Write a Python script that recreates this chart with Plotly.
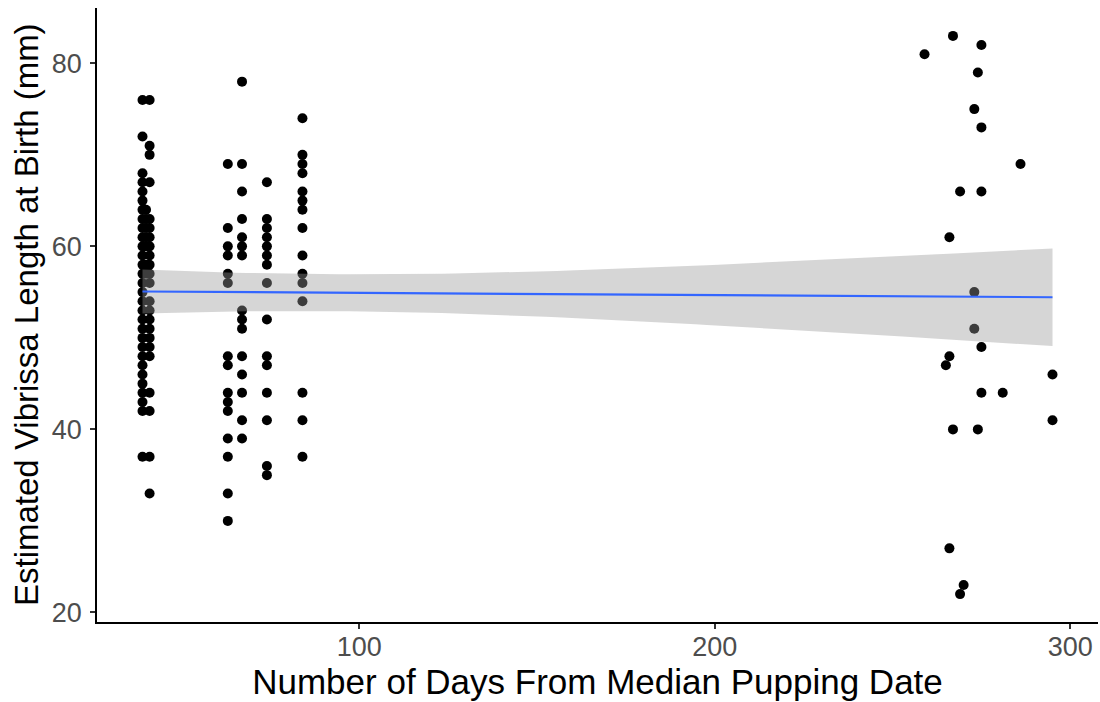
import numpy as np
import plotly.graph_objects as go

# ---- data (days from median pupping date, estimated vibrissa length at birth in mm) ----
c1a_day = 39
c1a_len = [76, 72, 68, 67, 66, 65, 64, 63, 62, 61, 60, 59, 58, 57, 56, 55, 54, 53,
           52, 51, 50, 49, 48, 47, 46, 45, 44, 43, 42, 37]
c1b_day = 41
c1b_len = [76, 71, 70, 67, 63, 62, 61, 60, 59, 58, 57, 56, 54, 53, 52, 51, 50, 49,
           48, 44, 42, 37, 33]
c1c_day = 40
c1c_len = [64, 63, 62, 61, 60, 58, 57]

c2_day = 63
c2_len = [69, 62, 60, 59, 57, 56, 48, 47, 44, 43, 42, 39, 37, 33, 30]
c3_day = 67
c3_len = [78, 69, 66, 63, 61, 60, 59, 53, 52, 51, 48, 46, 44, 41, 39]
c4_day = 74
c4_len = [67, 63, 62, 61, 60, 59, 58, 56, 52, 48, 47, 44, 41, 36, 35]
c5_day = 84
c5_len = [74, 70, 69, 68, 66, 65, 64, 62, 59, 57, 56, 54, 44, 41, 37]

late_day = [267, 275, 259, 274, 273, 275, 286, 269, 275, 266, 273, 273, 275, 266,
            265, 295, 275, 281, 295, 267, 274, 266, 270, 269]
late_len = [83, 82, 81, 79, 75, 73, 69, 66, 66, 61, 55, 51, 49, 48, 47, 46, 44, 44,
            41, 40, 40, 27, 23, 22]

x_ticks = [100, 200, 300]
y_ticks = [20, 40, 60, 80]
x_title = "Number of Days From Median Pupping Date"
y_title = "Estimated Vibrissa Length at Birth (mm)"

# ---- assemble ----
xs, ys = [], []
for d, vals in [(c1a_day, c1a_len), (c1b_day, c1b_len), (c1c_day, c1c_len),
                (c2_day, c2_len), (c3_day, c3_len), (c4_day, c4_len), (c5_day, c5_len)]:
    xs += [d] * len(vals)
    ys += vals
xs += late_day
ys += late_len
x = np.array(xs, dtype=float)
y = np.array(ys, dtype=float)

# linear model fit with 95% confidence band (like geom_smooth(method="lm"))
n = len(x)
b1, b0 = np.polyfit(x, y, 1)
resid = y - (b0 + b1 * x)
s = np.sqrt(np.sum(resid ** 2) / (n - 2))
xbar = x.mean()
sxx = np.sum((x - xbar) ** 2)
xf = np.linspace(x.min(), x.max(), 80)
yf = b0 + b1 * xf
se = s * np.sqrt(1.0 / n + (xf - xbar) ** 2 / sxx)
tcrit = 1.977
upper = yf + tcrit * se
lower = yf - tcrit * se

fig = go.Figure()
fig.add_trace(go.Scatter(x=x, y=y, mode="markers",
                         marker=dict(color="black", size=10, line=dict(width=0)),
                         showlegend=False, hoverinfo="x+y"))
fig.add_trace(go.Scatter(x=xf, y=upper, mode="lines", line=dict(width=0),
                         showlegend=False, hoverinfo="skip"))
fig.add_trace(go.Scatter(x=xf, y=lower, mode="lines", line=dict(width=0),
                         fill="tonexty", fillcolor="rgba(153,153,153,0.4)",
                         showlegend=False, hoverinfo="skip"))
fig.add_trace(go.Scatter(x=xf, y=yf, mode="lines",
                         line=dict(color="#3366FF", width=2.2),
                         showlegend=False))

xr = [x.min() - 0.05 * (x.max() - x.min()), x.max() + 0.05 * (x.max() - x.min())]
yr = [y.min() - 0.05 * (y.max() - y.min()), y.max() + 0.05 * (y.max() - y.min())]

axis_common = dict(showgrid=False, zeroline=False, showline=True, linecolor="black",
                   linewidth=1.8, ticks="outside", ticklen=5, tickwidth=1.6,
                   tickcolor="#333333", automargin=False,
                   tickfont=dict(size=27, color="#4D4D4D", family="Liberation Sans"))

fig.update_layout(
    width=1100, height=702,
    paper_bgcolor="white", plot_bgcolor="white",
    margin=dict(l=97, r=2, t=8, b=80),
    font=dict(family="Liberation Sans", color="black"),
    xaxis=dict(range=xr, tickvals=x_ticks, ticklabelstandoff=-5,
               title=dict(text=x_title, font=dict(size=35, color="black"), standoff=1),
               **axis_common),
    yaxis=dict(range=yr, tickvals=y_ticks, ticklabelstandoff=3,
               **axis_common),
    annotations=[dict(text=y_title, textangle=-90, xref="paper", yref="paper",
                      x=(26 - 97) / 1001, y=0.5, xanchor="center", yanchor="middle",
                      showarrow=False, font=dict(size=33, color="black",
                                                 family="Liberation Sans"))],
)

fig.write_html("out.html", config={"displayModeBar": False},
               post_script="document.body.style.margin='0';document.body.style.overflow='hidden';")
